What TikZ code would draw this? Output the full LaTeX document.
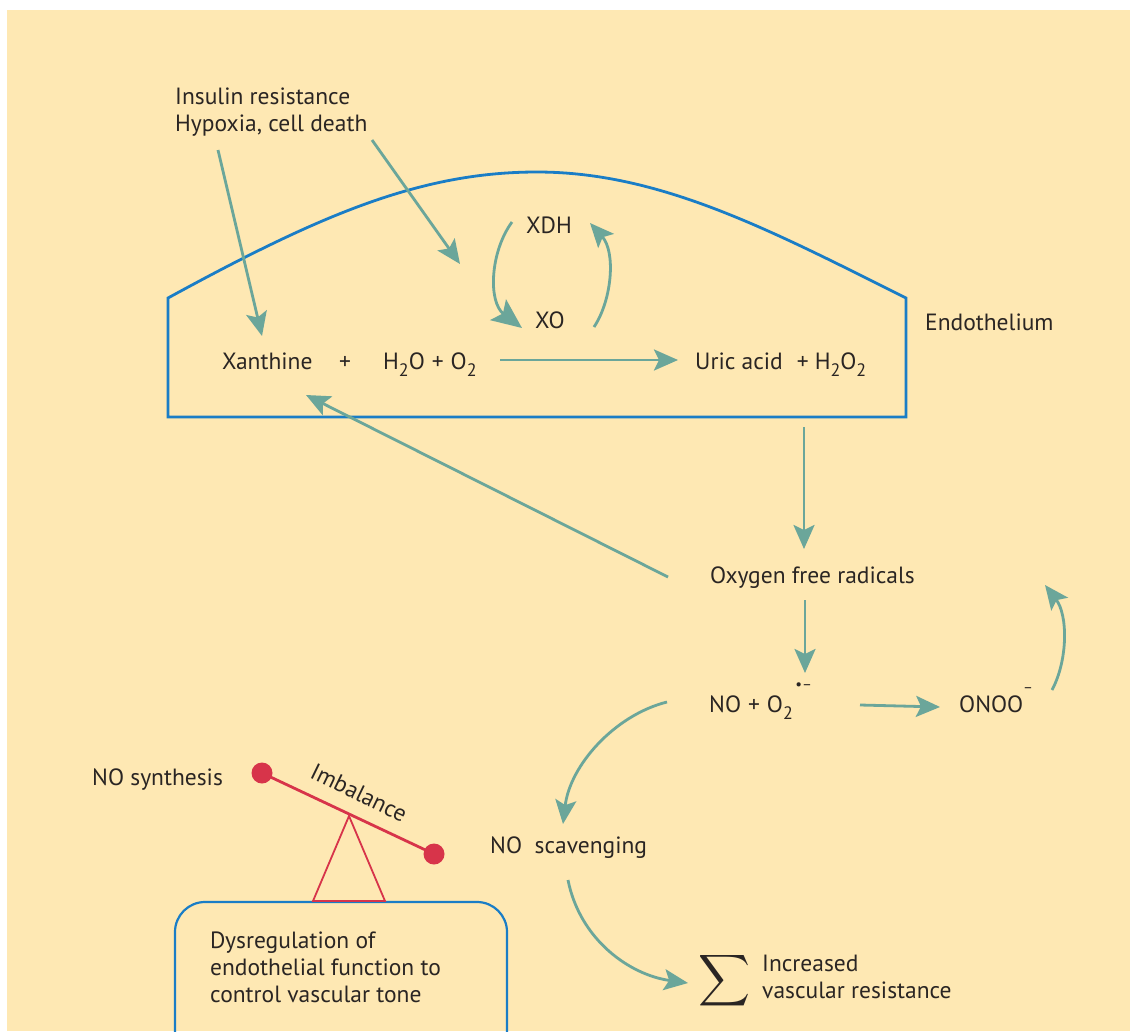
\documentclass[tikz,border=0pt]{standalone}
\usepackage{fontspec}
\setmainfont{PT Sans}
\usepackage{graphicx}
\usetikzlibrary{arrows.meta}
\definecolor{bg}{HTML}{FEE8B3}
\definecolor{tealc}{HTML}{6BA69A}
\definecolor{bluec}{HTML}{1A7DC6}
\definecolor{redc}{HTML}{D7344A}
\definecolor{txt}{HTML}{2A2523}
\newcommand\subtwo{\raisebox{-0.3em}{\fontsize{18}{18}\selectfont 2}}
\newcommand\pl{\hspace{7pt}+\hspace{7pt}}
\tikzset{
  lbl/.style={text=txt, font=\fontsize{23.5}{28}\selectfont, inner sep=0pt, anchor=base west},
  arr/.style={draw=tealc, line width=2.8pt, -{Stealth[length=24pt,width=21pt,inset=5pt]}},
  bigarr/.style={draw=tealc, line width=2.8pt, -{Stealth[length=30pt,width=26pt,inset=6pt]}},
  endo/.style={draw=bluec, line width=2.8pt, line join=miter},
  redline/.style={draw=redc, line width=2.8pt},
  redtri/.style={draw=redc, line width=1.8pt},
  dot/.style={circle, fill=redc, minimum size=21pt, inner sep=0pt},
}
\begin{document}
\begin{tikzpicture}[x=1pt,y=-1pt]
\useasboundingbox (0,0) rectangle (1130,1031);
\fill[white] (0,0) rectangle (1130,1031);
\fill[bg] (7,10) rectangle (1130,1031);

% endothelium shape
\draw[endo] (168,298) -- (168,417) -- (906,417) -- (906,298)
  .. controls (770,230) and (660,172) .. (537,172)
  .. controls (420,172) and (320,215) .. cycle;

% bottom box
\draw[draw=bluec, line width=2.2pt, rounded corners=30pt] (175,1080) -- (175,902) -- (507,902) -- (507,1080);

% text
\node[lbl] (ins) at (175,104) {Insulin resistance};
\node[lbl] (hyp) at (175,131) {Hypoxia, cell death};
\node[lbl] (xdh) at (526,233) {XDH};
\node[lbl] (xo) at (535,328) {XO};
\node[lbl] (xan) at (222,369) {Xanthine};
\node[lbl] (plus) at (339,369) {+};
\node[lbl] (h2o) at (383,369) {H\subtwo O\pl O\subtwo};
\node[lbl] (uric) at (695,369) {Uric acid\hspace{14pt}+\hspace{6pt}H\subtwo O\subtwo};
\node[lbl] (endol) at (925,330) {Endothelium};
\node[lbl] (ofr) at (710,583) {Oxygen free radicals};
\node[lbl] (noo) at (709,712) {NO\pl O\subtwo\raisebox{0.95em}{\fontsize{15}{15}\selectfont\,•–}};
\node[lbl] (onoo) at (959,712) {ONOO\raisebox{0.85em}{\fontsize{15}{15}\selectfont –}};
\node[lbl] (nosyn) at (92,785) {NO synthesis};
\node[lbl] (nosc) at (490,853) {NO \ scavenging};
\node[lbl, anchor=north west, align=left, font=\fontsize{23.5}{26.5}\selectfont] (incr) at (762,955) {Increased\\vascular resistance};
\node[text=txt, inner sep=0pt] (sig) at (724,981) {\scalebox{3.6}{$\displaystyle\sum$}};
\node[lbl, anchor=north west, align=left, font=\fontsize{23.5}{26.7}\selectfont] (dys) at (210,932) {Dysregulation of\\endothelial function to\\control vascular tone};

% balance
\node[dot] (d1) at (262,773) {};
\node[dot] (d2) at (434,854) {};
\draw[redline] (d1.center) -- (d2.center);
\coordinate (apex) at (349,816);
\coordinate (bl) at (313,901);
\coordinate (br) at (385,901);
\draw[redtri] (bl) -- (apex) -- (br) -- cycle;
\node[text=txt, font=\fontsize{23.5}{28}\selectfont, inner sep=0pt, rotate=-25.9] (imb) at (359,793) {Imbalance};

% arrow coordinates
\coordinate (a1s) at (218,150); \coordinate (a1e) at (262,336);
\coordinate (a2s) at (372,140); \coordinate (a2e) at (460,264);
\coordinate (a3s) at (512,222); \coordinate (a3e) at (522,328);
\coordinate (a4s) at (594,327); \coordinate (a4e) at (590,223);
\coordinate (a5s) at (500,360); \coordinate (a5e) at (678,360);
\coordinate (a6s) at (804,427); \coordinate (a6e) at (804,549);
\coordinate (a7s) at (668,577); \coordinate (a7e) at (306,395);
\coordinate (a8s) at (805,600); \coordinate (a8e) at (805,673);
\coordinate (a9s) at (860,705); \coordinate (a9e) at (940,707);
\coordinate (a10s) at (1052,690); \coordinate (a10e) at (1045,585);
\coordinate (a11s) at (667,702); \coordinate (a11e) at (563,824);
\coordinate (a12s) at (568,880); \coordinate (a12e) at (688,983);

\draw[arr] (a1s) -- (a1e);
\draw[arr] (a2s) -- (a2e);
\draw[bigarr] (a3s) .. controls (490,252) and (488,302) .. (a3e);
\draw[arr] (a4s) .. controls (612,300) and (616,252) .. (a4e);
\draw[arr] (a5s) -- (a5e);
\draw[arr] (a6s) -- (a6e);
\draw[arr] (a7s) -- (a7e);
\draw[arr] (a8s) -- (a8e);
\draw[arr] (a9s) -- (a9e);
\draw[arr] (a10s) .. controls (1068,660) and (1068,615) .. (a10e);
\draw[arr] (a11s) .. controls (615,715) and (570,765) .. (a11e);
\draw[arr] (a12s) .. controls (580,940) and (630,975) .. (a12e);
\end{tikzpicture}
\end{document}
